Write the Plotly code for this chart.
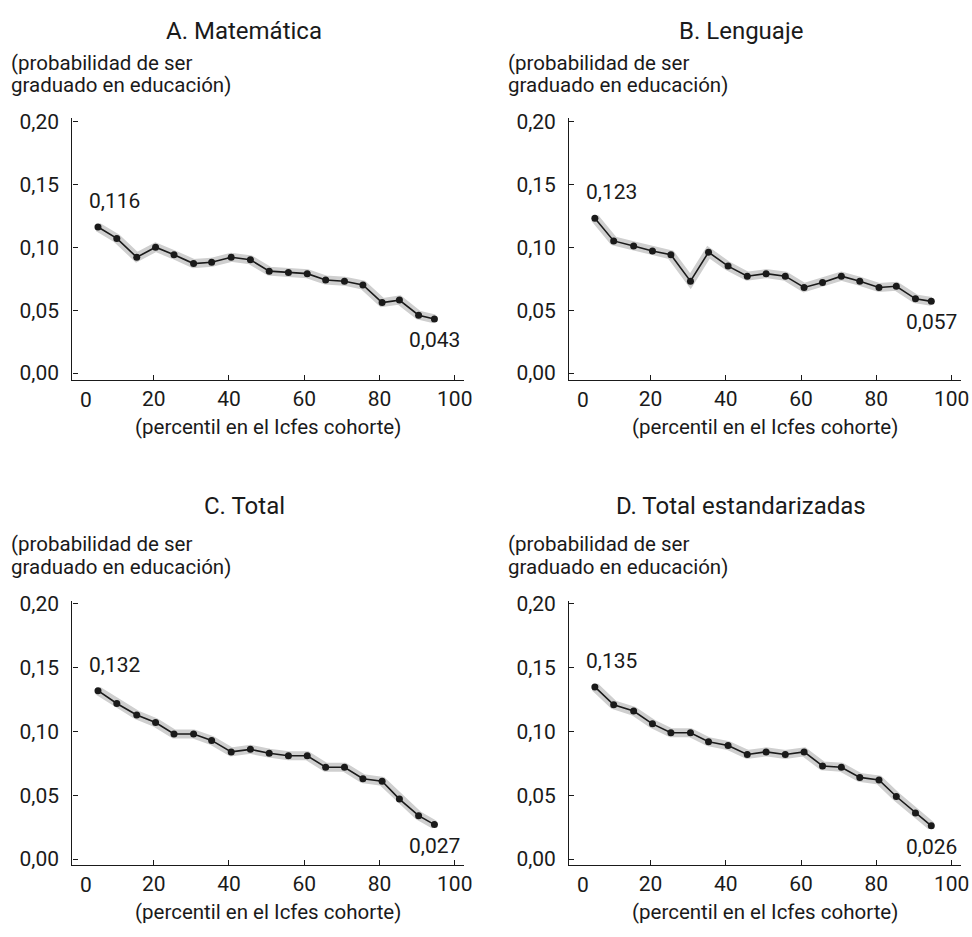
import plotly.graph_objects as go

W, H = 972, 937
FONT = "Roboto, Arial, sans-serif"
INK = "#1a1a1a"
HALO = "#cfcfcf"

# Percentile of the Icfes cohort (x) shared by all panels
percentil = [5.2, 10.2, 15.5, 20.5, 25.4, 30.6, 35.4, 40.6, 45.7, 50.7,
             55.8, 60.8, 65.7, 70.7, 75.6, 80.7, 85.3, 90.4, 94.6]

# Probability of graduating in education, by panel
matematica = [0.116, 0.107, 0.092, 0.100, 0.094, 0.087, 0.088, 0.092, 0.090, 0.081,
              0.080, 0.079, 0.074, 0.073, 0.070, 0.056, 0.058, 0.046, 0.043]
lenguaje = [0.123, 0.105, 0.101, 0.097, 0.094, 0.073, 0.096, 0.085, 0.077, 0.079,
            0.077, 0.068, 0.072, 0.077, 0.073, 0.068, 0.069, 0.059, 0.057]
total = [0.132, 0.122, 0.113, 0.107, 0.098, 0.098, 0.093, 0.084, 0.086, 0.083,
         0.081, 0.081, 0.072, 0.072, 0.063, 0.061, 0.047, 0.034, 0.027]
estandarizadas = [0.135, 0.121, 0.116, 0.106, 0.099, 0.099, 0.092, 0.089, 0.082, 0.084,
                  0.082, 0.084, 0.073, 0.072, 0.064, 0.062, 0.049, 0.036, 0.026]

titles = ["A. Matemática", "B. Lenguaje", "C. Total", "D. Total estandarizadas"]
series = [matematica, lenguaje, total, estandarizadas]
first_labels = ["0,116", "0,123", "0,132", "0,135"]
last_labels = ["0,043", "0,057", "0,027", "0,026"]

y_ticks = [0.0, 0.05, 0.10, 0.15, 0.20]
y_ticktext = ["0,00", "0,05", "0,10", "0,15", "0,20"]
x_ticks = [20, 40, 60, 80, 100]
x_ticktext = ["20", "40", "60", "80", "100"]

y_title_lines = ["(probabilidad de ser", "graduado en educación)"]
x_title = "(percentil en el Icfes cohorte)"

# Plot areas in pixels: (left, right, top, bottom, ymin)
boxes = [
    (73, 468, 111.8, 377.7, -0.0055),
    (574, 969, 111.8, 377.7, -0.0055),
    (73, 468, 601.8, 870.0, -0.0047),
    (574, 969, 601.8, 870.0, -0.0047),
]
# Vertical pixel centres of the panel title and the two y-title lines
title_rows = [(23, 56, 78.5), (23, 56, 78.5), (506, 544, 567), (506, 544, 567)]
X_RANGE = [-1.6, 102.5]

TICK_SIZE = 21
LABEL_SIZE = 20.5
TITLE_SIZE = 24


def px(x):
    return x / W


def py(y):
    return 1 - y / H


fig = go.Figure()
annotations = []
layout_axes = {}

for i, (title, vals, lab0, lab1, box, rows) in enumerate(
        zip(titles, series, first_labels, last_labels, boxes, title_rows)):
    n = i + 1
    left, right, top, bottom, ymin = box
    xa = "x" if n == 1 else f"x{n}"
    ya = "y" if n == 1 else f"y{n}"
    xkey = "xaxis" if n == 1 else f"xaxis{n}"
    ykey = "yaxis" if n == 1 else f"yaxis{n}"

    # soft grey band under the line
    fig.add_trace(go.Scatter(
        x=percentil, y=vals, xaxis=xa, yaxis=ya, mode="lines",
        line=dict(color=HALO, width=9), hoverinfo="skip", showlegend=False))
    fig.add_trace(go.Scatter(
        x=percentil, y=vals, xaxis=xa, yaxis=ya, mode="lines+markers",
        line=dict(color=INK, width=1.6), marker=dict(color=INK, size=7),
        showlegend=False))

    layout_axes[xkey] = dict(
        domain=[px(left), px(right)], range=X_RANGE, anchor=ya,
        showline=True, linecolor=INK, linewidth=1.3, showgrid=False, zeroline=False,
        ticks="inside", ticklen=5, tickwidth=1.2, tickcolor=INK,
        tickvals=x_ticks, ticktext=x_ticktext, ticklabelstandoff=0,
        tickfont=dict(family=FONT, size=TICK_SIZE, color=INK))
    layout_axes[ykey] = dict(
        domain=[py(bottom), py(top)], range=[ymin, 0.2025], anchor=xa,
        showline=True, linecolor=INK, linewidth=1.3, showgrid=False, zeroline=False,
        ticks="inside", ticklen=5, tickwidth=1.2, tickcolor=INK,
        tickvals=y_ticks, ticktext=y_ticktext, ticklabelstandoff=8,
        tickfont=dict(family=FONT, size=TICK_SIZE, color=INK))

    # panel title
    annotations.append(dict(
        text=title, xref="paper", yref="paper", x=px(left + 173.5), y=py(rows[0]),
        xanchor="center", yanchor="middle", showarrow=False,
        font=dict(family=FONT, size=TITLE_SIZE, color=INK)))
    # y-axis title, one annotation per line
    for line, row in zip(y_title_lines, rows[1:]):
        annotations.append(dict(
            text=line, xref="paper", yref="paper", x=px(left - 64), y=py(row),
            xanchor="left", yanchor="middle", align="left", showarrow=False,
            font=dict(family=FONT, size=LABEL_SIZE, color=INK)))
    # x-axis title
    annotations.append(dict(
        text=x_title, xref="paper", yref="paper", x=px(left + 197), y=py(bottom + 48),
        xanchor="center", yanchor="middle", showarrow=False,
        font=dict(family=FONT, size=LABEL_SIZE, color=INK)))
    # the "0" tick label of the x axis
    annotations.append(dict(
        text="0", xref=xa, yref="paper", x=2.0, y=py(bottom + 20),
        xanchor="center", yanchor="middle", showarrow=False,
        font=dict(family=FONT, size=TICK_SIZE, color=INK)))
    # value labels at the first and last points
    annotations.append(dict(
        text=lab0, xref=xa, yref=ya, x=percentil[0], y=vals[0],
        xshift=17, yshift=26, xanchor="center", yanchor="middle", showarrow=False,
        font=dict(family=FONT, size=TICK_SIZE, color=INK)))
    annotations.append(dict(
        text=lab1, xref=xa, yref=ya, x=percentil[-1], y=vals[-1],
        xshift=0, yshift=-21, xanchor="center", yanchor="middle", showarrow=False,
        font=dict(family=FONT, size=TICK_SIZE, color=INK)))

fig.update_layout(
    width=W, height=H, margin=dict(l=0, r=0, t=0, b=0),
    paper_bgcolor="white", plot_bgcolor="white",
    font=dict(family=FONT, color=INK),
    annotations=annotations, **layout_axes)

fig.write_html("out.html")
